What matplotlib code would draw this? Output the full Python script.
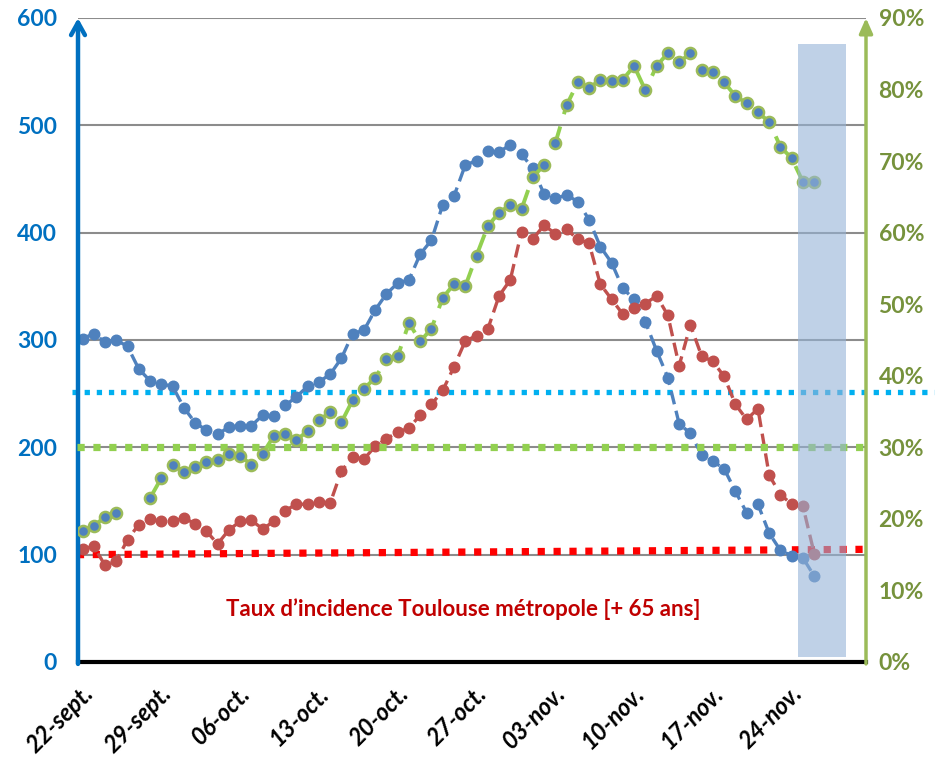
import numpy as np
import matplotlib
matplotlib.use("Agg")
import matplotlib.pyplot as plt
from matplotlib.patches import Rectangle
from matplotlib.ticker import FuncFormatter

plt.rcParams['font.family'] = ['Lato', 'DejaVu Sans']

# une valeur par jour à partir du 22-sept.
n_days = 70
tick_pos = [0, 7, 14, 21, 28, 35, 42, 49, 56, 63]
tick_labels = ["22-sept.", "29-sept.", "06-oct.", "13-oct.", "20-oct.",
               "27-oct.", "03-nov.", "10-nov.", "17-nov.", "24-nov."]

# taux d'incidence (axe gauche)
blue = [301, 306, 298, 300, 294, 273, 262, 259, 257, 237, 223, 216, 212, 219,
        220, 220, 230, 229, 239, 247, 257, 261, 268, 283, 306, 309, 328, 343,
        353, 356, 380, 393, 426, 434, 463, 467, 476, 475, 482, 473, 460, 436,
        432, 435, 429, 412, 387, 372, 348, 338, 317, 290, 265, 222, 213, 193,
        187, 180, 159, 139, 147, 120, 104, 99, 97, 80]
red = [105, 108, 90, 94, 114, 128, 133, 131, 131, 134, 129, 122, 110, 123,
       131, 132, 124, 131, 141, 147, 147, 149, 148, 178, 191, 189, 201, 208,
       214, 218, 230, 240, 253, 275, 299, 304, 310, 341, 356, 401, 394, 407,
       399, 403, 394, 390, 352, 338, 324, 330, 334, 341, 323, 276, 314, 285,
       280, 266, 240, 226, 236, 174, 156, 147, 145, 101]
# pourcentage (axe droit), nan = pas de donnée
green = [18.3, 19.0, 20.3, 20.8, np.nan, np.nan, 22.9, 25.7, 27.6, 26.6, 27.3, 28.0, 28.2, 29.0,
         28.8, 27.6, 29.1, 31.6, 31.9, 31.0, 32.3, 33.8, 34.9, 33.5, 36.6, 38.2, 39.7, 42.3,
         42.7, 47.4, 44.8, 46.6, 50.9, 52.8, 52.5, 56.8, 60.9, 62.8, 63.9, 63.3, 67.8, 69.4,
         72.5, 77.8, 81.0, 80.2, 81.4, 81.2, 81.4, 83.3, 79.9, 83.3, 85.1, 83.8, 85.1, 82.7,
         82.5, 81.0, 79.1, 78.1, 76.8, 75.5, 72.0, 70.4, 67.1, 67.1]

# seuils
seuil_bleu = 252
seuil_vert = 30
seuil_rouge = [100, 105]

x = np.arange(len(blue))
green_frac = np.array(green) / 100.0

fig = plt.figure(figsize=(9.4, 7.62), dpi=100)
ax = fig.add_axes([78 / 940, 1 - 662 / 762, (866 - 78) / 940, (662 - 18) / 762])
ax2 = ax.twinx()

ax.set_xlim(-0.4, n_days - 0.4)
ax.set_ylim(0, 600)
ax2.set_ylim(0, 0.9)

ax.yaxis.grid(True, color='#8C8C8C', lw=1.5)
ax.set_axisbelow(True)

# lignes de seuil
ax.plot([-0.95, 75.6], [seuil_bleu, seuil_bleu], color='#00B0F0', lw=3.8,
        ls=(0, (1, 1.3)), clip_on=False, zorder=2)
ax.plot([-0.5, 69.9], seuil_rouge, color='#FF0000', lw=5.2,
        ls=(0, (1, 1.2)), clip_on=False, zorder=2)
ax2.plot([-0.5, 69.9], [seuil_vert / 100, seuil_vert / 100], color='#92D050', lw=5.2,
         ls=(0, (1, 1.2)), clip_on=False, zorder=1)

ax.plot(x, blue, color='#4F81BD', lw=2.4, ls=(0, (4, 2)), marker='o', ms=7.6,
        mfc='#4F81BD', mec='#4F81BD', zorder=3)
ax.plot(x, red, color='#C0504D', lw=2.4, ls=(0, (4, 2)), marker='o', ms=7.6,
        mfc='#C0504D', mec='#C0504D', zorder=3)
ax2.plot(x, green_frac, color='#92D050', lw=2.8, ls=(0, (6, 3.3)), marker='o', ms=8,
         mfc='#4F81BD', mec='#9BBB59', mew=1.8, zorder=3)

# zone grisée (derniers jours)
ax2.add_patch(Rectangle((63.6, 5), 4.2, 571, transform=ax.transData,
                        facecolor='#95B3D7', alpha=0.6, lw=0, zorder=10))
ax2.set_ylim(0, 0.9)

ax.text(33.8, 49, "Taux d\u2019incidence Toulouse métropole [+ 65 ans]",
        ha='center', va='center', color='#C00000', fontsize=16, fontweight='bold')

# axes
for a in (ax, ax2):
    for s in ('top', 'left', 'right'):
        a.spines[s].set_visible(False)
ax2.spines['bottom'].set_visible(False)
ax.spines['bottom'].set_linewidth(3)
ax.spines['bottom'].set_color('black')

ax.annotate('', xy=(0, 1.0), xytext=(0, -0.003), xycoords='axes fraction',
            arrowprops=dict(arrowstyle='->,head_length=0.9,head_width=0.5',
                            color='#0070C0', lw=3.2, shrinkA=0, shrinkB=0))
ax.annotate('', xy=(1, 1.0), xytext=(1, -0.003), xycoords='axes fraction',
            arrowprops=dict(arrowstyle='-|>,head_length=0.9,head_width=0.4',
                            color='#9BBB59', lw=2.5, shrinkA=0, shrinkB=0))

ax.set_yticks(range(0, 601, 100))
ax.tick_params(axis='y', length=0, pad=15, labelcolor='#0070C0', labelsize=16.5)
ax2.set_yticks(np.arange(0, 0.91, 0.1))
ax2.yaxis.set_major_formatter(FuncFormatter(lambda v, p: f"{v * 100:.0f}%"))
ax2.tick_params(axis='y', length=0, pad=9, labelcolor='#76923C', labelsize=16.5)
for lab in ax.get_yticklabels() + ax2.get_yticklabels():
    lab.set_fontweight('bold')

# étiquettes décalées un peu à droite, comme dans Excel
ax.set_xticks([p + 0.6 for p in tick_pos])
ax.set_xticklabels(tick_labels, rotation=45, ha='right', va='center',
                   rotation_mode='anchor', fontsize=17, fontweight='bold',
                   fontstyle='italic')
ax.tick_params(axis='x', length=0, pad=20)

fig.savefig("out.png", dpi=100)
